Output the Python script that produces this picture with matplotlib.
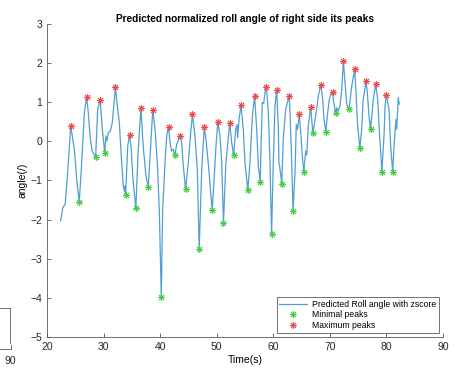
import matplotlib
matplotlib.use("Agg")
import matplotlib.pyplot as plt
from matplotlib.lines import Line2D

plt.rcParams['font.family'] = ['Liberation Sans', 'DejaVu Sans']

# predicted roll angle (z-score)
t = [22.4, 22.8, 23.2, 23.6, 24.2, 24.83, 25.25, 25.7, 26.13, 26.6, 27.0, 27.3, 27.66, 28.0, 28.6,
     28.96, 29.4, 29.78, 30.2, 30.4, 30.6, 30.84, 31.2, 31.54, 32.1, 32.37, 32.6, 32.78, 33.2,
     33.49, 33.67, 33.8, 33.9, 34.27, 34.6, 34.85, 35.2, 35.7, 36.1, 36.6, 37.0, 37.5, 37.9,
     38.33, 38.7, 39.1, 39.5, 39.85, 40.2, 40.45, 40.86, 41.16, 41.5, 41.74, 42.04, 42.33, 42.6,
     42.93, 43.5, 43.8, 44.1, 44.5, 44.98, 45.4, 45.7, 46.16, 46.57, 46.9, 47.35, 47.8, 48.1,
     48.5, 48.8, 49.2, 49.5, 49.87, 50.2, 50.58, 50.88, 51.2, 51.6, 52.3, 52.65, 53.0, 53.36,
     53.59, 53.71, 53.94, 54.3, 54.7, 55.0, 55.5, 55.88, 56.3, 56.7, 57.07, 57.36, 57.7, 57.83,
     58.06, 58.3, 58.54, 58.8, 59.12, 59.42, 59.7, 60.0, 60.3, 60.6, 60.9, 61.0, 61.2, 61.5,
     61.77, 62.2, 62.8, 62.96, 63.26, 63.5, 63.84, 63.96, 64.07, 64.3, 64.6, 64.9, 65.13, 65.4,
     65.73, 65.9, 66.19, 66.6, 67.0, 67.67, 67.96, 68.4, 68.74, 68.97, 69.3, 69.55, 69.9, 70.15,
     70.5, 70.6, 71.0, 71.2, 71.44, 71.8, 72.1, 72.4, 72.68, 72.98, 73.2, 73.4, 73.86, 74.4,
     74.62, 74.92, 75.3, 75.63, 75.9, 76.4, 76.62, 76.92, 77.2, 77.68, 78.1, 78.46, 78.7, 79.2,
     79.6, 79.75, 80.0, 80.46, 80.75, 81.1, 81.5, 81.7, 81.8, 82.1, 82.28]
roll = [-2.03, -1.69, -1.61, -0.9, 0.39, -0.2, -0.97, -1.56, -0.55, 0.73, 1.13, 0.73, 0.05, -0.25, -0.40,
        0.82, 1.05, 0.31, -0.29, 0.14, 0.01, 0.22, 0.26, 0.48, 1.38, 0.99, 0.69, 0.48, -0.54,
        -1.14, -1.27, -1.14, -1.37, -0.12, 0.17, -0.12, -0.97, -1.71, -0.3, 0.86, -0.12, -0.89, -1.16,
        -0.12, 0.81, 0.31, -0.54, -1.74, -3.98, -1.74, -0.54, 0.14, 0.37, -0.03, -0.25, -0.2, -0.36,
        -0.08, 0.15, -0.03, -0.63, -1.23, -0.54, 0.22, 0.69, 0.14, -0.72, -2.75, -0.72, 0.37, 0.05,
        -0.54, -1.06, -1.76, -1.06, -0.12, 0.50, 0.14, -0.54, -2.08, -0.6, 0.47, -0.03, -0.36, 0.31,
        0.43, 0.09, 0.56, 0.92, 0.31, -0.54, -1.25, -0.54, 0.65, 1.16, 0.31, -0.63, -1.03, -0.12,
        0.99, 0.97, 1.25, 1.38, 0.73, -0.54, -2.37, -0.54, 0.9, 1.32, 0.31, -0.54, -0.72, -1.08,
        0.05, 0.82, 1.17, 0.73, -0.54, -1.79, -0.8, -0.12, 0.43, 0.31, 0.69, 0.14, -0.38, -0.77,
        -0.25, -0.35, 0.39, 0.88, 0.21, 0.82, 1.16, 1.45, 1.07, 0.56, 0.25, 0.65, 1.07, 1.2,
        1.27, 1.07, 0.73, 0.86, 0.78, 0.9, 1.33, 2.06, 1.5, 0.95, 0.89, 0.82, 1.41, 1.84,
        1.25, 0.39, -0.16, 0.31, 1.07, 1.54, 1.25, 0.65, 0.31, 1.07, 1.46, 1.07, 0.39, -0.77,
        0.22, 0.9, 1.18, 0.82, -0.12, -0.77, 0.22, 0.56, 0.31, 1.12, 0.95]

# minimal peaks
min_t = [25.7, 28.6, 30.2, 33.9, 35.7, 37.9, 40.2, 42.6, 44.5, 46.9, 49.2, 51.2, 53.0, 55.5,
         57.7, 59.7, 61.5, 63.5, 65.4, 67.0, 69.3, 71.0, 73.4, 75.3, 77.2, 79.2, 81.1]
min_v = [-1.56, -0.40, -0.29, -1.37, -1.71, -1.16, -3.98, -0.36, -1.23, -2.75, -1.76, -2.08, -0.36,
         -1.25, -1.03, -2.37, -1.08, -1.79, -0.77, 0.21, 0.25, 0.73, 0.82, -0.16, 0.31, -0.77, -0.77]

# maximum peaks
max_t = [24.2, 27.0, 29.4, 32.1, 34.6, 36.6, 38.7, 41.5, 43.5, 45.7, 47.8, 50.2, 52.3, 54.3,
         56.7, 58.8, 60.6, 62.8, 64.6, 66.6, 68.4, 70.5, 72.4, 74.4, 76.4, 78.1, 80.0]
max_v = [0.39, 1.13, 1.05, 1.38, 0.17, 0.86, 0.81, 0.37, 0.15, 0.69, 0.37, 0.50, 0.47, 0.92,
         1.16, 1.38, 1.32, 1.17, 0.69, 0.88, 1.45, 1.27, 2.06, 1.84, 1.54, 1.46, 1.18]

fig = plt.figure(figsize=(4.64, 3.81), dpi=100)
ax = fig.add_axes([0.1013, 0.1155, 0.8534, 0.8215])

star = (8, 2, 0)  # matlab-like asterisk
ax.plot(t, roll, color='#4f9fd3', lw=0.9, label='Predicted Roll angle with zscore')
ax.plot(min_t, min_v, ls='none', marker=star, color='#45cf45', ms=5, mew=0.7,
        label='Minimal peaks')
ax.plot(max_t, max_v, ls='none', marker=star, color='#ee4a4a', ms=5, mew=0.7,
        label='Maximum peaks')

ax.set_xlim(20, 90)
ax.set_ylim(-5, 3)
ax.set_xticks(range(20, 91, 10))
ax.set_yticks(range(-5, 4))
for s in ['top', 'right']:
    ax.spines[s].set_visible(False)
for s in ['left', 'bottom']:
    ax.spines[s].set_color('0.35')
    ax.spines[s].set_linewidth(0.6)
ax.tick_params(direction='in', length=3, width=0.6, color='0.35', labelsize=7.5, labelcolor='0.15')

ax.set_title('Predicted normalized roll angle of right side its peaks', fontsize=7.3,
             fontweight='bold', pad=1)
ax.set_xlabel('Time(s)', fontsize=7.5, labelpad=2)
ax.set_ylabel('angle(/)', fontsize=7.5, labelpad=2)

leg = ax.legend(loc='lower right', fontsize=6.2, frameon=True, fancybox=False,
                borderaxespad=0.5, handlelength=3.2, labelspacing=0.2, borderpad=0.3,
                handletextpad=0.6)
leg.get_frame().set_edgecolor('0.2')
leg.get_frame().set_linewidth(0.6)

# fragment of a neighbouring chart at the left edge
W, H = 464.0, 381.0
def px(x, y):
    return x / W, 1 - y / H
for seg in [((0, 308), (10, 308)), ((10, 308), (10, 343)),
            ((0, 349), (10.7, 349)), ((10.7, 349), (10.7, 345))]:
    (x0, y0), (x1, y1) = px(*seg[0]), px(*seg[1])
    fig.add_artist(Line2D([x0, x1], [y0, y1], transform=fig.transFigure, color='0.35', lw=0.6))
fx, fy = px(10, 361)
fig.text(fx, fy, '90', fontsize=7.5, color='0.15', ha='center', va='center')

fig.savefig('out.png', dpi=100)
